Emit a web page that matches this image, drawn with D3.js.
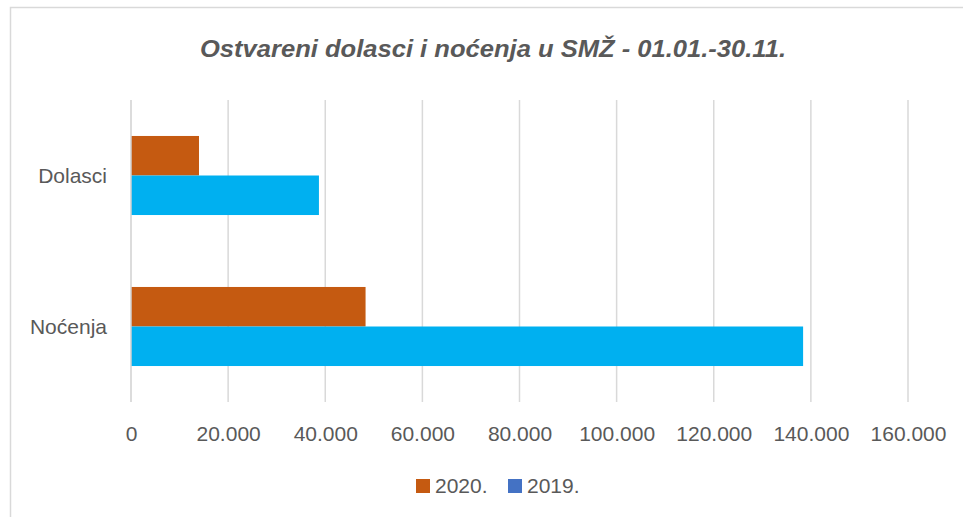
<!DOCTYPE html>
<html>
<head>
<meta charset="utf-8">
<script src="https://cdn.jsdelivr.net/npm/d3@7/dist/d3.min.js"></script>
<style>
  html, body { margin: 0; padding: 0; background: #fff; }
  svg { display: block; }
</style>
</head>
<body>
<svg id="chart" width="963" height="517"></svg>
<script>
const titleText = "Ostvareni dolasci i noćenja u SMŽ - 01.01.-30.11.";
const categories = ["Dolasci", "Noćenja"];
const seriesNames = ["2020.", "2019."];
const values2020 = [14000, 48300];
const values2019 = [38700, 138400];
const tickValues = [0, 20000, 40000, 60000, 80000, 100000, 120000, 140000, 160000];
const tickLabels = ["0", "20.000", "40.000", "60.000", "80.000", "100.000", "120.000", "140.000", "160.000"];
const barColors = ["#C55A11", "#00B0F0"];
const legendColors = ["#C55A11", "#4472C4"];

const svg = d3.select("#chart");
const font = "'Liberation Sans', Arial, sans-serif";
const textColor = "#595959";

// outer chart border (extends past right/bottom edge as in reference)
svg.append("rect")
  .attr("x", 10.5).attr("y", 7.5)
  .attr("width", 970).attr("height", 530)
  .attr("fill", "#fff").attr("stroke", "#d9d9d9").attr("stroke-width", 1.5);

const x = d3.scaleLinear().domain([0, 160000]).range([131, 908]);
const y = d3.scaleBand().domain(categories).range([100, 402]).paddingInner(0).paddingOuter(0);
const sub = d3.scaleBand().domain(seriesNames).range([0, y.bandwidth()]).paddingInner(0).paddingOuter(0.91);

// gridlines
svg.append("g").selectAll("line").data(tickValues.slice(1)).join("line")
  .attr("x1", d => x(d)).attr("x2", d => x(d))
  .attr("y1", 100).attr("y2", 402)
  .attr("stroke", "#d9d9d9").attr("stroke-width", 1.5);

// bars
const data = [];
categories.forEach((c, i) => {
  data.push({cat: c, s: seriesNames[0], v: values2020[i], col: barColors[0]});
  data.push({cat: c, s: seriesNames[1], v: values2019[i], col: barColors[1]});
});
svg.append("g").selectAll("rect").data(data).join("rect")
  .attr("x", x(0))
  .attr("y", d => y(d.cat) + sub(d.s))
  .attr("width", d => x(d.v) - x(0))
  .attr("height", sub.bandwidth())
  .attr("fill", d => d.col);

// vertical axis line
svg.append("line")
  .attr("x1", x(0)).attr("x2", x(0)).attr("y1", 100).attr("y2", 402)
  .attr("stroke", "#d0d0d0").attr("stroke-width", 1.5);

// x axis labels
const xAxis = d3.axisBottom(x).tickValues(tickValues)
  .tickFormat((d, i) => tickLabels[i]).tickSize(0).tickPadding(0);
const gx = svg.append("g").attr("transform", "translate(0,425)").call(xAxis);
gx.select(".domain").remove();
gx.selectAll("text")
  .attr("dy", null).attr("y", 16)
  .attr("fill", textColor).style("font-family", font).style("font-size", "21px");

// y axis labels
const yAxis = d3.axisLeft(y).tickSize(0).tickPadding(0);
const gy = svg.append("g").attr("transform", "translate(107,0)").call(yAxis);
gy.select(".domain").remove();
gy.selectAll("text")
  .attr("dy", "0.35em")
  .attr("fill", textColor).style("font-family", font).style("font-size", "21px");

// title
svg.append("text")
  .attr("x", 493).attr("y", 57)
  .attr("text-anchor", "middle")
  .attr("textLength", 586).attr("lengthAdjust", "spacingAndGlyphs")
  .attr("fill", textColor)
  .style("font-family", font).style("font-size", "24px")
  .style("font-weight", "bold").style("font-style", "italic")
  .text(titleText);

// legend
const legendX = [416, 508];
const lg = svg.append("g").selectAll("g").data(seriesNames).join("g")
  .attr("transform", (d, i) => `translate(${legendX[i]},479)`);
lg.append("rect").attr("width", 14).attr("height", 14).attr("fill", (d, i) => legendColors[i]);
lg.append("text").attr("x", 19).attr("y", 14)
  .attr("fill", textColor).style("font-family", font).style("font-size", "21px")
  .text(d => d);
</script>
</body>
</html>
